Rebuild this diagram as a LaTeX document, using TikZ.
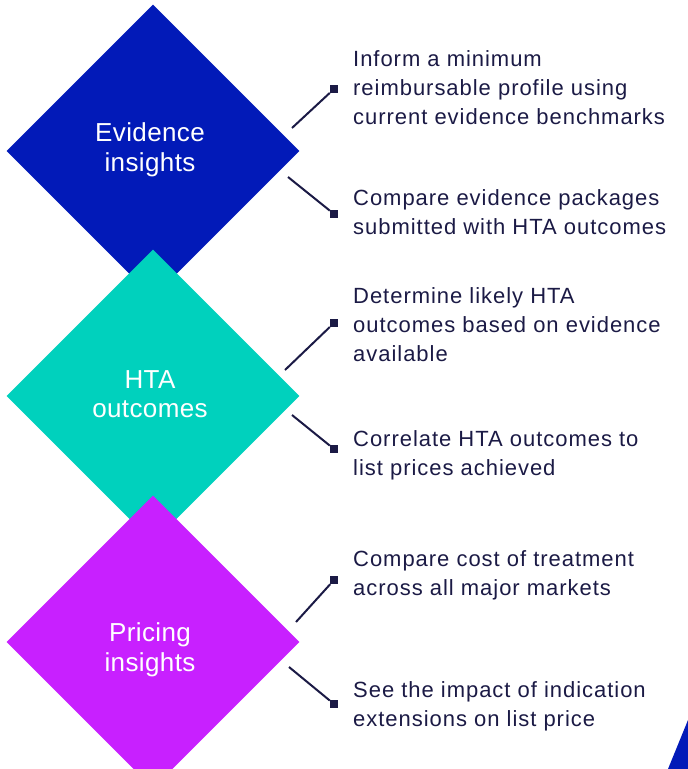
\documentclass[tikz,border=0pt]{standalone}
\usepackage{fontspec}
\setmainfont{Liberation Sans}
\newfontfamily\notefont[LetterSpace=4.4]{Liberation Sans}
\usetikzlibrary{shapes.geometric}
\definecolor{evblue}{RGB}{2,26,184}
\definecolor{htateal}{RGB}{0,209,189}
\definecolor{prpurple}{RGB}{200,32,255}
\definecolor{ink}{RGB}{27,26,69}
\tikzset{
  gem/.style={diamond, minimum width=293pt, minimum height=293pt, inner sep=0pt},
  gemtext/.style={inner sep=0pt, text=white, align=center,
    font=\fontsize{26}{29.5}\selectfont\addfontfeatures{LetterSpace=1.5}},
  tip/.style={rectangle, fill=ink, minimum size=8pt, inner sep=0pt},
  note/.style={anchor=north west, inner sep=0pt, align=left, text=ink,
    font=\notefont\fontsize{22}{29}\selectfont},
  link/.style={draw=ink, line width=2pt}
}
\begin{document}
\begin{tikzpicture}[x=1pt, y=-1pt]
	     \useasboundingbox (0,0) rectangle (688,769);
	     \clip (0,0) rectangle (688,769);
	     %
	     \fill[evblue] (668,769) -- (688,720) -- (688,769) -- cycle;
	     %
             \node[gem, fill=evblue] (ev) at (153,151) {};
             \node[gem, fill=htateal] (hta) at (153,396) {};
             \node[gem, fill=prpurple] (pr) at (153,642) {};
             %
             \node[gemtext] (evl) at (150,150) {Evidence\\insights};
             \node[gemtext] (htal) at (150,394) {HTA\\outcomes};
             \node[gemtext] (prl) at (150,650) {Pricing\\insights};
             %
             \node[tip] (t1) at (334,89) {};
             \node[tip] (t2) at (334,214) {};
             \node[tip] (t3) at (334,323) {};
             \node[tip] (t4) at (334,449) {};
             \node[tip] (t5) at (334,580) {};
             \node[tip] (t6) at (334,704) {};
             %
             \coordinate (c1) at (292,128);
             \coordinate (c2) at (288,177);
             \coordinate (c3) at (285,370);
             \coordinate (c4) at (292,415);
             \coordinate (c5) at (296,622);
             \coordinate (c6) at (289,667);
             %
             \path[link] (c1) edge (t1);
             \path[link] (c2) edge (t2);
             \path[link] (c3) edge (t3);
             \path[link] (c4) edge (t4);
             \path[link] (c5) edge (t5);
             \path[link] (c6) edge (t6);
             %
             \node[note] (n1) at (353,50) {Inform a minimum\\reimbursable profile using\\current evidence benchmarks};
             \node[note] (n2) at (353,189) {Compare evidence packages\\submitted with HTA outcomes};
             \node[note] (n3) at (353,287) {Determine likely HTA\\outcomes based on evidence\\available};
             \node[note] (n4) at (353,430) {Correlate HTA outcomes to\\list prices achieved};
             \node[note] (n5) at (353,550) {Compare cost of treatment\\across all major markets};
             \node[note] (n6) at (353,681) {See the impact of indication\\extensions on list price};
          \end{tikzpicture}
\end{document}
